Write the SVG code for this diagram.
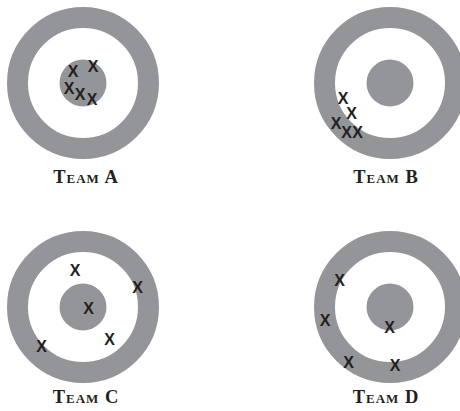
<svg xmlns="http://www.w3.org/2000/svg" xmlns:xlink="http://www.w3.org/1999/xlink" width="460" height="411" viewBox="0 0 460 411">
  <style>
    .ring { fill: none; stroke: #939598; stroke-width: 21; }
    .bull { fill: #939598; }
    .x { font-family: "Liberation Sans", Arial, sans-serif; font-weight: bold; font-size: 16px; fill: #231f20; text-anchor: middle; }
    .label { font-family: "Liberation Serif", "Times New Roman", serif; font-weight: bold; font-size: 18.5px; font-variant: small-caps; fill: #231f20; text-anchor: middle; letter-spacing: 1px; }
  </style>
  <defs>
    <g id="target">
      <circle class="ring" cx="0" cy="0" r="65.5"/>
      <circle class="bull" cx="0" cy="0" r="23.5"/>
    </g>
  </defs>
  <rect width="460" height="411" fill="#ffffff"/>

  <g id="team-a">
    <use xlink:href="#target" href="#target" x="83" y="83"/>
    <text class="x" x="73" y="76.5">X</text>
    <text class="x" x="93" y="71.5">X</text>
    <text class="x" x="69" y="93.5">X</text>
    <text class="x" x="80" y="100">X</text>
    <text class="x" x="92" y="105">X</text>
    <text class="label" x="86" y="183">Team A</text>
  </g>

  <g id="team-b">
    <use xlink:href="#target" href="#target" x="390" y="83"/>
    <text class="x" x="343" y="103.5">X</text>
    <text class="x" x="351.5" y="119">X</text>
    <text class="x" x="336" y="128.5">X</text>
    <text class="x" x="346.5" y="137.5">X</text>
    <text class="x" x="357.5" y="137.5">X</text>
    <text class="label" x="386" y="183">Team B</text>
  </g>

  <g id="team-c">
    <use xlink:href="#target" href="#target" x="83" y="307"/>
    <text class="x" x="75" y="276">X</text>
    <text class="x" x="137.5" y="292.5">X</text>
    <text class="x" x="88.5" y="313.5">X</text>
    <text class="x" x="109.5" y="345">X</text>
    <text class="x" x="41.5" y="351.5">X</text>
    <text class="label" x="86" y="403">Team C</text>
  </g>

  <g id="team-d">
    <use xlink:href="#target" href="#target" x="390" y="307"/>
    <text class="x" x="339.5" y="286">X</text>
    <text class="x" x="325" y="326">X</text>
    <text class="x" x="389.5" y="332.5">X</text>
    <text class="x" x="348.5" y="367.5">X</text>
    <text class="x" x="395" y="371">X</text>
    <text class="label" x="386" y="403">Team D</text>
  </g>
</svg>
